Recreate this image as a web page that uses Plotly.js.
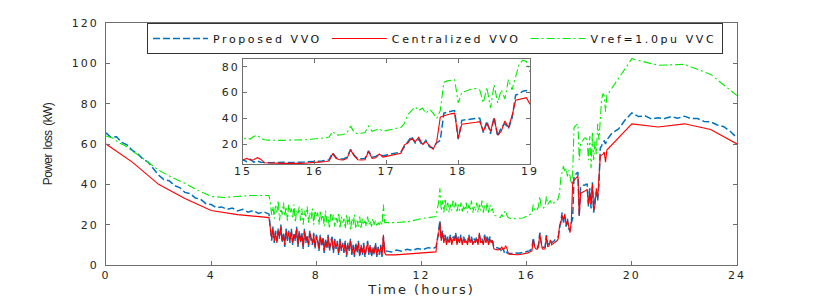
<!DOCTYPE html>
<html>
<head>
<meta charset="utf-8">
<script src="https://cdn.plot.ly/plotly-3.0.1.min.js"></script>
<style>
  html, body { margin: 0; padding: 0; background: #fff; }
  #chart { width: 814px; height: 298px; }
  g[class$="tick"] text { letter-spacing: 2px; }
  .legendtext { letter-spacing: 2.6px; }
  .xtitle { letter-spacing: 2px; }
  .ytitle { letter-spacing: -0.6px; word-spacing: 2px; }
</style>
</head>
<body>
<div id="chart"></div>
<script>
// ---------- time grids (hours) ----------
function grid(start, step, count) {
  var a = [];
  for (var i = 0; i < count; i++) a.push(Math.round((start + i * step) * 100) / 100);
  return a;
}
const tNoise1 = grid(6.25, 0.05, 88);   // 6.25 .. 10.60
const tNoise2 = grid(12.6, 0.05, 43);   // 12.60 .. 14.70
const tNoise3 = grid(14.75, 0.05, 86);  // 14.75 .. 19.00

// ---------- Proposed VVO (blue) ----------
const blueSmoothT = grid(0, 0.2, 32);
const blueSmoothV = [65.5,63.2,63.6,60.8,59.6,56.8,55.2,52.6,51.0,47.8,44.6,42.4,41.8,39.4,38.4,36.0,35.4,33.2,32.6,30.4,30.0,28.4,28.8,27.6,28.2,26.8,27.6,26.2,27.0,25.6,26.4,25.2];
const blueNoise1V = [18,12,19,11,17,12,18,13,20,11,16,9,18,12,17,11,
  18,10,16,12,19,9,17,11,16,8,18,11,15,9,17,12,10,16,8,15,
  13,7,15,9,14,6,13,8,15,7,12,14,6,13,8,12,5,13,7,11,
  6,12,4,11,7,13,5,10,4,11,6,12,4,10,5,11,4,9,12,5,
  10,4,9,5,11,4,9,5,10,4,14,7];
const blueMidT = [10.65,10.85,11.05,11.25,11.45,11.65,11.85,12.05,12.25,12.45,12.55];
const blueMidV = [7,6.4,7.4,6.8,7.8,7.2,8.2,7.6,8.6,8.2,9];
const blueNoise2V = [12,16,22,13,17,12,15,11,14,
  12,15,11,14,13,16,11,14,12,15,
  11,14,12,13,11,15,12,14,11,13,
  12,14,11,15,12,13,11,15,12,14,
  11,14,12,12];
const blueNoise3V = [9,8.8,8.6,8.6,8.5,8,
  6.5,8.5,6.2,7,6,5.8,5.6,5.6,5.8,6,
  6,6,5.8,5.8,6,6,6.2,6.4,6.5,6.8,
  7,7,7.5,8,13.5,9.5,8.6,8.6,10,16,
  11.5,8.8,8.8,9,14.8,10,10.5,12,11,11.5,
  12,13,13.5,14,18,22,26,21,24,19,
  23,18,17,21,23,44,45,45.5,46,24,
  38.5,39,39.5,39.5,40,40,29,38,28,41,
  26,33,36,32,40,58,59,61,61.5,60];
const blueEveT = [19.05,19.25,19.5,19.75,20,20.25,20.5,20.75,21,21.25,21.5,21.75,22,22.25,22.5,22.75,23,23.25,23.5,23.75,24];
const blueEveV = [62,65.5,67.5,72,75.4,73.6,74,72.4,73,72.6,73.6,72.8,73.8,72.6,72.6,71.2,71,69.4,68.6,66.2,63];

// ---------- Centralized VVO (red) ----------
const redSmoothT = [0,1,2,3,4,5,6.2];
const redSmoothV = [60,51,40,33,27,25,23.5];
const redNoise1V = [17,13,18,12,16,11,17,14,19,12,15,10,17,13,16,12,
  17,11,15,13,18,10,16,12,15,9,17,12,14,10,16,13,11,15,9,14,
  12,8,14,10,13,7,12,9,14,8,11,13,7,12,9,11,6,12,8,10,
  7,11,5,10,8,12,6,9,5,10,7,11,5,9,6,10,5,8,11,6,
  9,5,8,6,10,5,8,6,9,5,15,6];
const redMidT = [10.65,11,11.5,12,12.55];
const redMidV = [5,5,5.5,6,6.5];
const redNoise2V = [13,15,21,12,16,11,14,10,13,
  11,14,10,13,12,15,10,13,11,14,
  10,13,11,12,10,14,11,13,10,12,
  11,13,10,16,11,12,10,14,11,13,
  10,13,11,12];
const redNoise3V = [8,7.8,7.6,7.5,7.6,7.8,
  9,7.8,8,9.6,8.2,5.6,5.4,5.3,5.3,5.2,
  5.2,5.2,5.1,5.1,5.2,5.2,5.3,5.4,5.6,5.8,
  6,6.3,6.6,7,12.5,9,8,7.8,9,15.6,
  11,8,7.8,8,14.3,9,9.5,12.5,10,10.5,
  11,11.5,12,13,19.5,21,24.6,22,25.4,20,
  22,19,16,22,41,42,43,43.5,44,24.5,
  35.5,35.8,36,36.5,37,37.5,30,36,30,40,
  27,30,38,33,42,54,54.5,55,56,51];
const redEveT = [19.05,20,21,22,23,24];
const redEveV = [57,70,68.4,70,67.2,60];

// ---------- Vref=1.0pu VVC (green) ----------
const greenSmoothT = [0,0.25,0.5,0.75,1,1.5,2,2.5,3,3.5,4,4.5,5,5.5,6.2];
const greenSmoothV = [64,63,60.5,59,56.5,52,47,43.5,40.5,37,34,33.5,34,34.5,34.5];
const greenNoise1V = [31,25,29,23,30,26,32,22,28,25,31,24,29,22,30,26,
  28,23,30,21,27,25,29,22,28,20,27,24,29,21,26,23,28,20,27,24,
  26,20,27,22,25,19,27,21,24,18,26,22,25,19,24,21,26,18,24,21,
  23,18,25,20,24,17,23,20,25,18,22,19,24,18,23,20,22,19,24,20,
  22,19,23,20,22,19,21,20,22,20,30,21];
const greenMidT = [10.65,11,11.5,12,12.55];
const greenMidV = [21,21,21.5,23,24];
const greenNoise2V = [28,31,38,27,32,26,33,27,31,
  26,30,27,32,28,31,26,30,27,31,
  26,29,27,31,26,30,27,32,26,29,
  27,31,26,30,27,32,26,30,27,31,
  26,30,27,28];
const greenNoise3V = [24.7,24.5,24.2,24,23.8,23.5,
  25,24,26,27,24.5,23.5,23.2,23,23,23,
  23,23,23,23,23,23.2,23.3,23.5,23.8,24,
  24.2,24.5,25,25.5,30,27,27,27.5,29,34,
  29,28,28.5,29,34,30,31,32,30,30.5,
  31,31.5,32,33,36,43,46,49,46,48,
  44,47,44,40,46,68,69,69.5,70,52,
  60,61,62,63,63,62,52,64,48,66,
  52,62,55,70,62,72,82,85,84,76];
const greenEveT = [19.05,20,21,22,23,24];
const greenEveV = [84,102.3,99,99.5,94.5,84];

const seriesNames = ['Proposed VVO', 'Centralized VVO', 'Vref=1.0pu VVC'];
const xTicksMain = [0,4,8,12,16,20,24];
const yTicksMain = [0,20,40,60,80,100,120];
const xTicksInset = [15,16,17,18,19];
const yTicksInset = [20,40,60,80];

function join(parts) { return [].concat.apply([], parts); }

const blueT = join([blueSmoothT, tNoise1, blueMidT, tNoise2, tNoise3, blueEveT]);
const blueV = join([blueSmoothV, blueNoise1V, blueMidV, blueNoise2V, blueNoise3V, blueEveV]);
const redT = join([redSmoothT, tNoise1, redMidT, tNoise2, tNoise3, redEveT]);
const redV = join([redSmoothV, redNoise1V, redMidV, redNoise2V, redNoise3V, redEveV]);
const greenT = join([greenSmoothT, tNoise1, greenMidT, tNoise2, tNoise3, greenEveT]);
const greenV = join([greenSmoothV, greenNoise1V, greenMidV, greenNoise2V, greenNoise3V, greenEveV]);

const styles = [
  {color: '#0072BD', width: 1.5, dash: '7px,3px'},
  {color: '#FF0000', width: 1.1, dash: 'solid'},
  {color: '#00EE00', width: 1.1, dash: '8px,3px,2px,3px'}
];
const data = [[blueT, blueV], [redT, redV], [greenT, greenV]];

const traces = [];
data.forEach(function (d, i) {
  traces.push({x: d[0], y: d[1], type: 'scatter', mode: 'lines', name: seriesNames[i],
    line: styles[i], xaxis: 'x', yaxis: 'y', hoverinfo: 'skip'});
});
data.forEach(function (d, i) {
  traces.push({x: d[0], y: d[1], type: 'scatter', mode: 'lines', name: seriesNames[i],
    line: styles[i], xaxis: 'x2', yaxis: 'y2', showlegend: false, hoverinfo: 'skip'});
});

const tickFont = {family: 'DejaVu Sans, Arial, sans-serif', size: 11, color: '#262626'};
const axisCommon = {
  showline: true, linecolor: '#6e6e6e', linewidth: 1, mirror: 'ticks',
  ticks: 'inside', ticklen: 4, tickcolor: '#6e6e6e', showgrid: false, zeroline: false,
  tickfont: tickFont
};

const layout = {
  width: 814, height: 298,
  margin: {l: 106, r: 77, t: 23, b: 33},
  paper_bgcolor: '#ffffff', plot_bgcolor: '#ffffff',
  showlegend: true,
  xaxis: Object.assign({}, axisCommon, {
    range: [0, 24], tickvals: xTicksMain, domain: [0, 1], anchor: 'y',
    title: {text: 'Time (hours)', font: {family: 'DejaVu Sans, Arial, sans-serif', size: 13, color: '#262626'}, standoff: 0}
  }),
  yaxis: Object.assign({}, axisCommon, {
    range: [0, 120], tickvals: yTicksMain, domain: [0, 1], anchor: 'x',
    ticklabelstandoff: 4,
    title: {text: 'Power loss (kW)', font: {family: 'Liberation Sans, Arial, sans-serif', size: 12, color: '#262626'}, standoff: 16}
  }),
  xaxis2: Object.assign({}, axisCommon, {
    range: [15, 19], tickvals: xTicksInset, domain: [0.2171, 0.6719], anchor: 'y2',
    ticklabelstandoff: -3
  }),
  yaxis2: Object.assign({}, axisCommon, {
    range: [4.7, 85.7], tickvals: yTicksInset, domain: [0.4174, 0.85], anchor: 'x2'
  }),
  shapes: [{
    type: 'rect', xref: 'x2', yref: 'y2', x0: 15, x1: 19, y0: 4.7, y1: 85.7,
    fillcolor: '#ffffff', line: {width: 0}, layer: 'below'
  }],
  legend: {
    orientation: 'h', x: 0.065, xanchor: 'left', y: 1.0, yanchor: 'top',
    bgcolor: '#ffffff', bordercolor: '#333333', borderwidth: 1,
    font: {family: 'DejaVu Sans, Arial, sans-serif', size: 11, color: '#111111'},
    itemwidth: 55, tracegroupgap: 0
  }
};

Plotly.newPlot('chart', traces, layout, {displayModeBar: false, staticPlot: true});
</script>
</body>
</html>
